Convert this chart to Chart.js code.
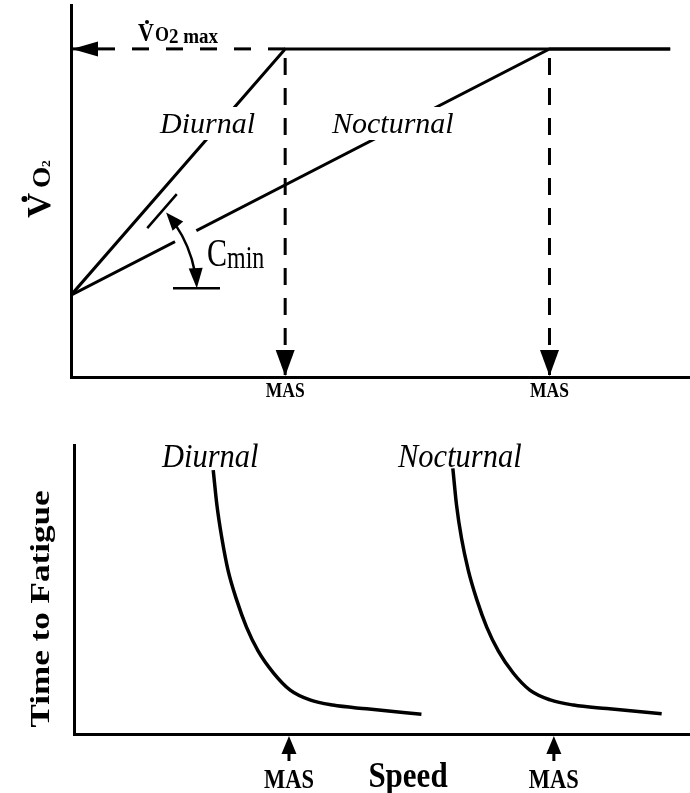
<!DOCTYPE html>
<html>
<head>
<meta charset="utf-8">
<script src="https://cdn.jsdelivr.net/npm/chart.js@4.4.1/dist/chart.umd.min.js"></script>
<style>
  html, body { margin: 0; padding: 0; background: #fff; }
  #wrap { position: relative; width: 690px; height: 793px; }
  canvas { position: absolute; left: 0; }
  #vo2 { top: 0; }
  #fatigue { top: 400px; }
</style>
</head>
<body>
<div id="wrap">
  <canvas id="vo2" width="690" height="400"></canvas>
  <canvas id="fatigue" width="690" height="393"></canvas>
</div>
<script>
// ------------------------------------------------------------
// Data (arbitrary units, 0-100 on each axis)
// ------------------------------------------------------------

// top panel : VO2 vs speed (rise then plateau at VO2max)
const diurnalX = [0, 34.6, 96.8];
const diurnalY = [22.0, 88.2, 88.2];
const nocturnalX = [0, 77.3, 96.8];
const nocturnalY = [22.0, 88.2, 88.2];
const vo2MaxLevel = 88.2;
const masTop = [34.6, 77.3];          // MAS diurnal, MAS nocturnal

// bottom panel : time to fatigue vs speed
const ttfDiurnalX = [22.6, 23.2, 24.0, 25.0, 26.4, 28.0, 29.9, 32.4, 35.1, 38.3, 42.0, 47.5, 56.4];
const ttfDiurnalY = [91.3, 79.2, 67.8, 56.7, 46.4, 37.0, 28.7, 21.1, 15.2, 11.8, 10.0, 8.7, 6.8];
const ttfNocturnalX = [61.5, 62.1, 62.9, 64.0, 65.4, 67.0, 68.9, 71.3, 74.0, 77.3, 81.1, 86.5, 95.4];
const ttfNocturnalY = [91.9, 79.2, 67.8, 56.7, 46.4, 37.0, 28.7, 21.1, 15.2, 11.8, 10.0, 8.8, 7.0];
const masBottom = [34.9, 77.9];

// ------------------------------------------------------------
// helpers
// ------------------------------------------------------------
const SERIF = '"Liberation Serif", "Times New Roman", serif';
const pts = (xs, ys) => xs.map((x, i) => ({ x: x, y: ys[i] }));

function axis() {
  return {
    type: 'linear', min: 0, max: 100,
    grid: { display: false, drawTicks: false },
    ticks: { display: false },
    border: { display: true, color: '#000', width: 3 }
  };
}

function line(data, extra) {
  return Object.assign({
    data: data, showLine: true, fill: false,
    borderColor: '#000', borderWidth: 3, pointRadius: 0,
    borderJoinStyle: 'miter'
  }, extra || {});
}

function arrowHead(ctx, tx, ty, ang, len, half) {
  ctx.save();
  ctx.translate(tx, ty);
  ctx.rotate(ang);
  ctx.beginPath();
  ctx.moveTo(0, 0);
  ctx.lineTo(-len, -half);
  ctx.lineTo(-len, half);
  ctx.closePath();
  ctx.fill();
  ctx.restore();
}

// text stretched vertically by k (the printed figure is a bit tall)
function label(ctx, str, x, y, font, k, align, knock) {
  ctx.save();
  ctx.font = font;
  ctx.textAlign = align || 'left';
  ctx.textBaseline = 'alphabetic';
  if (knock) {
    const m = ctx.measureText(str);
    const x0 = align === 'center' ? x - m.width / 2 : x;
    const asc = m.actualBoundingBoxAscent * k;
    ctx.fillStyle = '#fff';
    ctx.fillRect(x0 - knock[0], y - asc - knock[1], m.width + 2 * knock[0], asc + knock[1] + knock[2]);
  }
  ctx.fillStyle = '#000';
  ctx.translate(x, y);
  ctx.scale(1, k);
  ctx.fillText(str, 0, 0);
  ctx.restore();
}

// vertical text reading bottom to top, stretched along its length
function vlabel(ctx, str, x, yMid, font, k) {
  ctx.save();
  ctx.font = font;
  ctx.fillStyle = '#000';
  ctx.textAlign = 'center';
  ctx.translate(x, yMid);
  ctx.scale(1, k);
  ctx.rotate(-Math.PI / 2);
  ctx.fillText(str, 0, 0);
  ctx.restore();
}

// ------------------------------------------------------------
// top panel decorations
// ------------------------------------------------------------
const vo2Decor = {
  id: 'vo2Decor',
  afterDatasetsDraw(chart) {
    const { ctx, scales: { x, y } } = chart;
    const ox = x.getPixelForValue(diurnalX[0]);
    const oy = y.getPixelForValue(diurnalY[0]);
    const topY = y.getPixelForValue(vo2MaxLevel);
    const axisY = y.getPixelForValue(0);
    ctx.save();
    ctx.fillStyle = '#000';
    ctx.strokeStyle = '#000';

    // labels sitting on the lines (white box cuts the line)
    label(ctx, 'Diurnal', 160, 133, 'italic 30px ' + SERIF, 1.0, 'left', [3, 6, 7]);
    label(ctx, 'Nocturnal', 332, 133, 'italic 30px ' + SERIF, 1.0, 'left', [3, 6, 7]);

    // Cmin angle marker
    const ddx = x.getPixelForValue(diurnalX[1]) - ox, ddy = y.getPixelForValue(diurnalY[1]) - oy;
    const dl = Math.hypot(ddx, ddy), ux = ddx / dl, uy = ddy / dl;
    const thN = Math.atan2(y.getPixelForValue(nocturnalY[1]) - oy, x.getPixelForValue(nocturnalX[1]) - ox);
    ctx.lineWidth = 24;
    ctx.strokeStyle = '#fff';
    ctx.beginPath();
    ctx.arc(ox, oy, 129, thN - 0.05, thN + 0.05);
    ctx.stroke();

    ctx.strokeStyle = '#000';
    ctx.lineWidth = 2.5;
    const r = 126, ta = -41 * Math.PI / 180, tb = -3.2 * Math.PI / 180;
    ctx.beginPath();
    ctx.arc(ox, oy, r, ta + 15 / r, tb - 17 / r);
    ctx.stroke();
    arrowHead(ctx, ox + r * Math.cos(ta), oy + r * Math.sin(ta), Math.atan2(-Math.cos(ta), Math.sin(ta)), 18, 7);
    arrowHead(ctx, ox + r * Math.cos(tb), oy + r * Math.sin(tb), Math.atan2(Math.cos(tb), -Math.sin(tb)), 20, 7);
    const cx = ox + 91, cy = oy - 84;
    ctx.beginPath();
    ctx.moveTo(cx - ux * 22.5, cy - uy * 22.5);
    ctx.lineTo(cx + ux * 22.5, cy + uy * 22.5);
    ctx.moveTo(ox + 102, oy - 7);
    ctx.lineTo(ox + 149, oy - 7);
    ctx.stroke();
    label(ctx, 'C', 207, 266, '30px ' + SERIF, 1.32);
    label(ctx, 'min', 227, 268, '24px ' + SERIF, 1.3);

    // VO2max arrow and label
    arrowHead(ctx, ox + 1, topY, Math.PI, 26, 7.5);
    label(ctx, 'V', 138, 41, 'bold 22px ' + SERIF, 1.1);
    label(ctx, 'O', 155, 41, 'bold 18px ' + SERIF, 1.15);
    label(ctx, '2 max', 169, 43, 'bold 19px ' + SERIF, 1.1);
    ctx.beginPath();
    ctx.arc(147, 22, 2, 0, Math.PI * 2);
    ctx.fill();

    // MAS drop arrows and labels
    masTop.forEach(v => {
      const px = x.getPixelForValue(v);
      arrowHead(ctx, px, axisY - 1, Math.PI / 2, 26, 9.5);
      label(ctx, 'MAS', px, 397, 'bold 17.5px ' + SERIF, 1.15, 'center');
    });

    // y axis title : V-dot O2, reading upwards
    ctx.save();
    ctx.translate(50, 218);
    ctx.scale(1, 1.05);
    ctx.rotate(-Math.PI / 2);
    ctx.font = 'bold 33px ' + SERIF;
    ctx.fillText('V', 0, 0);
    ctx.font = 'bold 26px ' + SERIF;
    ctx.fillText('O', 28.6, 0);
    ctx.font = 'bold 13px ' + SERIF;
    ctx.fillText('2', 48.6, 0);
    ctx.restore();
    ctx.beginPath();
    ctx.arc(24.5, 199, 3, 0, Math.PI * 2);
    ctx.fill();

    ctx.restore();
  }
};

// ------------------------------------------------------------
// bottom panel decorations
// ------------------------------------------------------------
const fatigueDecor = {
  id: 'fatigueDecor',
  afterDatasetsDraw(chart) {
    const { ctx, scales: { x, y } } = chart;
    const axisY = y.getPixelForValue(0);
    ctx.save();
    ctx.fillStyle = '#000';
    ctx.strokeStyle = '#000';

    label(ctx, 'Diurnal', 162, 67, 'italic 30.5px ' + SERIF, 1.08);
    label(ctx, 'Nocturnal', 398, 67, 'italic 30.5px ' + SERIF, 1.08);

    masBottom.forEach(v => {
      const px = x.getPixelForValue(v);
      arrowHead(ctx, px, axisY + 2, -Math.PI / 2, 18, 7.5);
      ctx.lineWidth = 3;
      ctx.beginPath();
      ctx.moveTo(px, axisY + 18);
      ctx.lineTo(px, axisY + 27);
      ctx.stroke();
      label(ctx, 'MAS', px, 388, 'bold 22.5px ' + SERIF, 1.2, 'center');
    });

    label(ctx, 'Speed', 408, 387, 'bold 31px ' + SERIF, 1.17, 'center');
    vlabel(ctx, 'Time to Fatigue', 49, 209, 'bold 27px ' + SERIF, 1.3);

    ctx.restore();
  }
};

// ------------------------------------------------------------
// charts
// ------------------------------------------------------------
const common = {
  responsive: false,
  animation: false,
  events: [],
  plugins: { legend: { display: false }, tooltip: { enabled: false } }
};

new Chart(document.getElementById('vo2'), {
  type: 'scatter',
  data: {
    datasets: [
      line(pts([0, masTop[0]], [vo2MaxLevel, vo2MaxLevel]), { borderDash: [17, 17], borderDashOffset: 7 }),
      line(pts([masTop[0], masTop[0]], [vo2MaxLevel, 0]), { borderDash: [17, 13], borderDashOffset: 21 }),
      line(pts([masTop[1], masTop[1]], [vo2MaxLevel, 0]), { borderDash: [17, 13], borderDashOffset: 21 }),
      line(pts(diurnalX, diurnalY)),
      line(pts(nocturnalX, nocturnalY))
    ]
  },
  options: Object.assign({}, common, {
    layout: { padding: { left: 71, top: 5, right: 0, bottom: 23 } },
    scales: { x: axis(), y: axis() }
  }),
  plugins: [vo2Decor]
});

new Chart(document.getElementById('fatigue'), {
  type: 'scatter',
  data: {
    datasets: [
      line(pts(ttfDiurnalX, ttfDiurnalY), { borderWidth: 3.5, cubicInterpolationMode: 'monotone' }),
      line(pts(ttfNocturnalX, ttfNocturnalY), { borderWidth: 3.5, cubicInterpolationMode: 'monotone' })
    ]
  },
  options: Object.assign({}, common, {
    layout: { padding: { left: 74, top: 45, right: 0, bottom: 59 } },
    scales: { x: axis(), y: axis() }
  }),
  plugins: [fatigueDecor]
});
</script>
</body>
</html>
